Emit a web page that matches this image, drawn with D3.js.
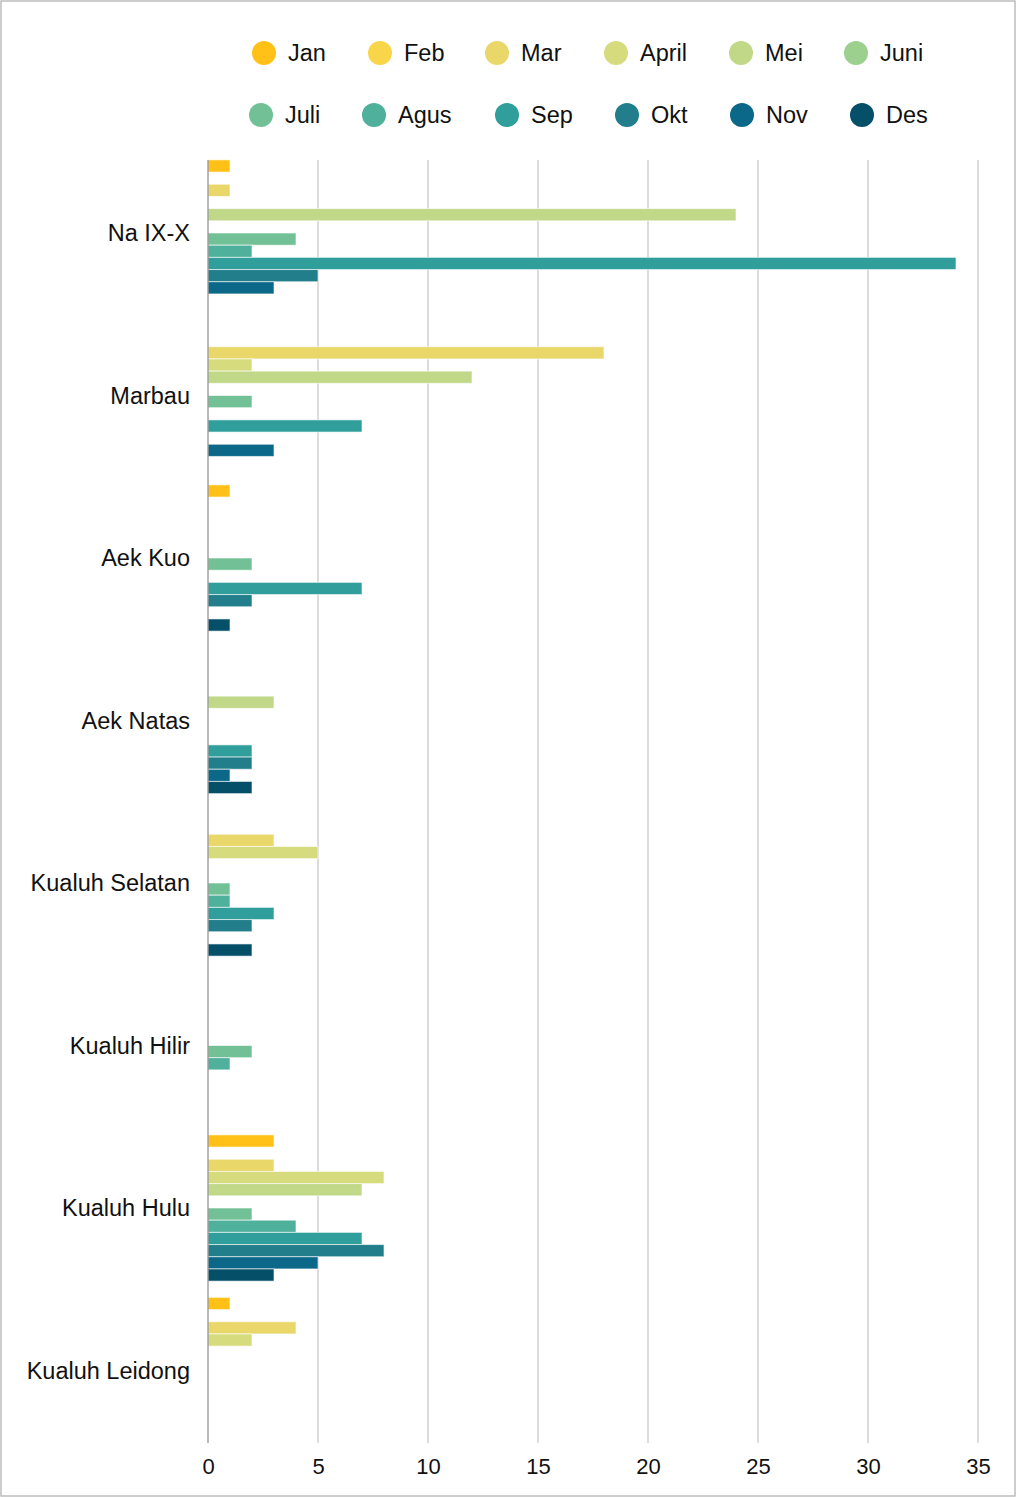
<!DOCTYPE html>
<html><head><meta charset="utf-8">
<script src="https://cdn.jsdelivr.net/npm/d3@7"></script>
<style>body{margin:0;background:#fff}svg{display:block;font-family:"Liberation Sans",Arial,sans-serif}</style>
</head><body><svg id="c" width="1016" height="1497"></svg>
<script>
const categories = ["Na IX-X","Marbau","Aek Kuo","Aek Natas","Kualuh Selatan","Kualuh Hilir","Kualuh Hulu","Kualuh Leidong"];
const months = ["Jan","Feb","Mar","April","Mei","Juni","Juli","Agus","Sep","Okt","Nov","Des"];
const colors = ["#FFC117","#F9D54A","#E9D76A","#D6DC7E","#C0D888","#9BD08F","#72C095","#4FB09C","#309E9A","#217E8A","#0B6889","#064F69"];
// values per category, in month order
const naIXX         = [1,0,1,0,24,0,4,2,34,5,3,0];
const marbau        = [0,0,18,2,12,0,2,0,7,0,3,0];
const aekKuo        = [1,0,0,0,0,0,2,0,7,2,0,1];
const aekNatas      = [0,0,0,0,3,0,0,0,2,2,1,2];
const kualuhSelatan = [0,0,3,5,0,0,1,1,3,2,0,2];
const kualuhHilir   = [0,0,0,0,0,0,2,1,0,0,0,0];
const kualuhHulu    = [3,0,3,8,7,0,2,4,7,8,5,3];
const kualuhLeidong = [1,0,4,2,0,0,0,0,0,0,0,0];
const xTicks = [0,5,10,15,20,25,30,35];

const series = [naIXX,marbau,aekKuo,aekNatas,kualuhSelatan,kualuhHilir,kualuhHulu,kualuhLeidong];
const svg = d3.select("#c");
svg.append("rect").attr("x",1).attr("y",1).attr("width",1014).attr("height",1495)
  .attr("fill","#fff").attr("stroke","#bdbdbd").attr("stroke-width",1.5);

const x = d3.scaleLinear().domain([0,35]).range([208,978]);
const y0 = d3.scaleBand().domain(categories).range([151.75,1451.75]).paddingInner(0.1).paddingOuter(0.05);
const y1 = d3.scaleBand().domain(months).range([0,y0.bandwidth()]);
const color = d3.scaleOrdinal().domain(months).range(colors);

const gridTop = 160, gridBottom = 1443;
// gridlines
svg.append("g").selectAll("line").data(xTicks.filter(t=>t>0)).join("line")
  .attr("x1",d=>x(d)).attr("x2",d=>x(d)).attr("y1",gridTop).attr("y2",gridBottom)
  .attr("stroke","#d0d0d0").attr("stroke-width",1.5);

// bars
const groups = svg.append("g").selectAll("g").data(categories).join("g")
  .attr("transform",c=>`translate(0,${y0(c)})`);
groups.selectAll("rect").data((c,i)=>months.map((m,j)=>({m,v:series[i][j]})).filter(d=>d.v>0)).join("rect")
  .attr("x",x(0)).attr("y",d=>y1(d.m)).attr("width",d=>x(d.v)-x(0)).attr("height",y1.bandwidth())
  .attr("fill",d=>color(d.m)).attr("stroke","#ffffff").attr("stroke-opacity",0.6).attr("stroke-width",1);

// zero axis line
svg.append("line").attr("x1",x(0)).attr("x2",x(0)).attr("y1",gridTop).attr("y2",gridBottom)
  .attr("stroke","#8a8a8a").attr("stroke-width",1.2);

// x axis labels
const xAxis = d3.axisBottom(x).tickValues(xTicks).tickSize(0).tickPadding(0);
const xg = svg.append("g").attr("transform",`translate(0,${1474})`).call(xAxis);
xg.select(".domain").remove();
xg.selectAll("text").attr("font-size",22).attr("fill","#111").attr("dy","0").style("font-family","Liberation Sans, Arial, sans-serif");

// category labels
const yAxis = d3.axisLeft(y0).tickSize(0).tickPadding(0);
const yg = svg.append("g").attr("transform",`translate(190,0)`).call(yAxis);
yg.select(".domain").remove();
yg.selectAll("text").attr("font-size",23.5).attr("fill","#111").attr("dy","0.35em").style("font-family","Liberation Sans, Arial, sans-serif");

// legend
const row1 = [264,380,497,616,741,856];
const row2 = [261,374,507,627,742,862];
const leg = svg.append("g");
months.forEach((m,i)=>{
  const r = i<6 ? 0 : 1;
  const cx = r===0 ? row1[i] : row2[i-6];
  const cy = r===0 ? 53 : 115;
  leg.append("circle").attr("cx",cx).attr("cy",cy).attr("r",12).attr("fill",color(m));
  leg.append("text").attr("x",cx+24).attr("y",cy).attr("dy","0.35em").attr("font-size",23.5).attr("fill","#111").text(m);
});
</script></body></html>
